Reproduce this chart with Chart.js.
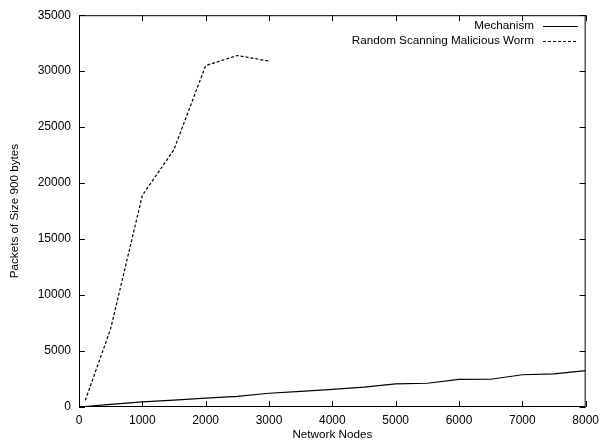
<!DOCTYPE html>
<html>
<head>
<meta charset="utf-8">
<script src="https://cdn.jsdelivr.net/npm/chart.js@4"></script>
<style>
  body { margin: 0; background: #fff; }
  canvas { display: block; }
</style>
</head>
<body>
<canvas id="chart" width="605" height="443"></canvas>
<script>
// data
const mechNodes = [0, 500, 1000, 1500, 2000, 2500, 3000, 3500, 4000, 4500, 5000, 5500, 6000, 6500, 7000, 7500, 8000];
const mechPackets = [0, 230, 460, 620, 800, 950, 1230, 1400, 1580, 1780, 2060, 2120, 2470, 2480, 2880, 2960, 3250];
const wormNodes = [100, 500, 1000, 1500, 2000, 2500, 3000];
const wormPackets = [600, 7000, 18900, 23000, 30500, 31400, 30900];
const seriesNames = ['Mechanism', 'Random Scanning Malicious Worm'];
const seriesDash = [[], [3, 2]];

const FONT = 'Liberation Sans, Arial, sans-serif';

// gnuplot style frame with inward ticks + legend at the top right
const frame = {
    id: 'frame',
    afterDraw(chart) {
        const ctx = chart.ctx;
        const a = chart.chartArea;
        const xs = chart.scales.x, ys = chart.scales.y;
        ctx.save();
        ctx.strokeStyle = '#000';
        ctx.lineWidth = 1;
        ctx.strokeRect(a.left + 0.5, a.top + 0.5, a.right - a.left - 1, a.bottom - a.top - 1);
        ctx.beginPath();
        xs.ticks.forEach(t => {
            const x = Math.round(xs.getPixelForValue(t.value)) + 0.5;
            ctx.moveTo(x, a.bottom); ctx.lineTo(x, a.bottom - 6);
            ctx.moveTo(x, a.top); ctx.lineTo(x, a.top + 6);
        });
        ys.ticks.forEach(t => {
            const y = Math.round(ys.getPixelForValue(t.value)) + 0.5;
            ctx.moveTo(a.left, y); ctx.lineTo(a.left + 6, y);
            ctx.moveTo(a.right, y); ctx.lineTo(a.right - 6, y);
        });
        ctx.stroke();

        // legend
        ctx.font = '11.7px ' + FONT;
        ctx.fillStyle = '#000';
        ctx.textAlign = 'right';
        ctx.textBaseline = 'middle';
        chart.data.datasets.forEach((ds, i) => {
            const y = 26 + i * 15;
            ctx.fillText(ds.label, 534, y);
            ctx.beginPath();
            ctx.setLineDash(ds.borderDash);
            ctx.moveTo(543, Math.round(y) + 0.5);
            ctx.lineTo(578, Math.round(y) + 0.5);
            ctx.stroke();
        });
        ctx.restore();
    }
};

new Chart(document.getElementById('chart'), {
    type: 'line',
    data: {
        datasets: [
            {
                label: seriesNames[0],
                data: mechNodes.map((n, i) => ({ x: n, y: mechPackets[i] })),
                borderColor: '#000',
                borderWidth: 1.2,
                borderDash: seriesDash[0],
                pointRadius: 0,
                tension: 0
            },
            {
                label: seriesNames[1],
                data: wormNodes.map((n, i) => ({ x: n, y: wormPackets[i] })),
                borderColor: '#000',
                borderWidth: 1.2,
                borderDash: seriesDash[1],
                pointRadius: 0,
                tension: 0
            }
        ]
    },
    options: {
        responsive: false,
        animation: false,
        layout: { padding: { top: 15, right: 13, left: 0, bottom: 0 } },
        plugins: { legend: { display: false }, tooltip: { enabled: false } },
        scales: {
            x: {
                type: 'linear',
                min: 0, max: 8000,
                grid: { display: false, drawTicks: false },
                border: { display: false },
                ticks: { stepSize: 1000, color: '#000', font: { family: FONT, size: 12 }, padding: 6, maxRotation: 0,
                         callback: v => String(v) },
                title: { display: true, text: 'Network Nodes', color: '#000', font: { family: FONT, size: 11.7 }, padding: { top: 0, bottom: 1 } },
                afterFit(s) { s.height = 36; }
            },
            y: {
                min: 0, max: 35000,
                grid: { display: false, drawTicks: false },
                border: { display: false },
                ticks: { stepSize: 5000, color: '#000', font: { family: FONT, size: 12 }, padding: 8,
                         callback: v => String(v) },
                title: { display: true, text: 'Packets of Size 900 bytes', color: '#000', font: { family: FONT, size: 11.7 }, padding: { top: 8, bottom: 0 } },
                afterFit(s) { s.width = 79; }
            }
        }
    },
    plugins: [frame]
});
</script>
</body>
</html>
